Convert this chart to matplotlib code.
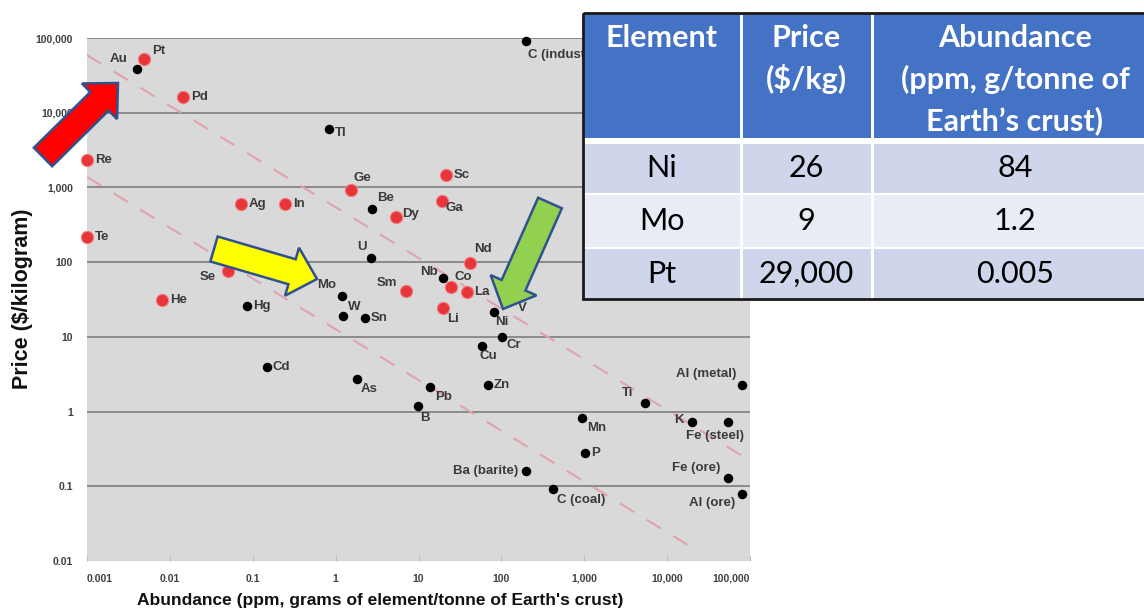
import numpy as np
import matplotlib.pyplot as plt
from matplotlib.patches import FancyArrow, Rectangle

# critical / scarce elements (red points): abundance (ppm) and price ($/kg)
red_names = ['Pt', 'Pd', 'Re', 'Te', 'Ge', 'Ag', 'In', 'Dy', 'Sc', 'Ga',
             'Nd', 'Se', 'He', 'Sm', 'Co', 'La', 'Li']
red_abund = [0.0049, 0.0145, 0.001, 0.001, 1.53, 0.072, 0.245, 5.3, 21.4, 19.1,
             42, 0.05, 0.008, 7.0, 24.6, 38.4, 19.7]
red_price = [52000, 16200, 2330, 217, 920, 600, 600, 400, 1470, 660,
             97, 76, 31, 41, 46, 40, 24]

# everything else (black points)
black_names = ['Au', 'Tl', 'Be', 'U', 'C (industrial)', 'Hg', 'Cd', 'Mo', 'W', 'As',
               'Sn', 'Nb', 'Ni', 'V', 'Cr', 'Cu', 'Zn', 'Pb', 'B', 'Mn',
               'P', 'Ba (barite)', 'C (coal)', 'Ti', 'K', 'Fe (steel)', 'Fe (ore)',
               'Al (ore)', 'Al (metal)']
black_abund = [0.004, 0.83, 2.74, 2.67, 198, 0.085, 0.148, 1.19, 1.22, 1.81,
               2.25, 19.7, 81, 120, 101, 58, 69, 13.7, 9.8, 935,
               1016, 198, 418, 5380, 19900, 54000, 54000,
               79600, 79600]
black_price = [38500, 6050, 514, 113, 91000, 25.8, 3.94, 35, 19, 2.72,
               17.9, 61, 21.5, 29, 9.9, 7.5, 2.26, 2.13, 1.19, 0.82,
               0.278, 0.16, 0.092, 1.3, 0.72, 0.73, 0.129,
               0.079, 2.26]

# two parallel price/abundance trend lines
upper_x = [0.001, 100000]
upper_y = [59000, 0.22]
lower_x = [0.001, 25000]
lower_y = [1380, 0.013]

xtick_vals = [0.001, 0.01, 0.1, 1, 10, 100, 1000, 10000, 100000]
xtick_labels = ['0.001', '0.01', '0.1', '1', '10', '100', '1,000', '10,000', '100,000']
ytick_vals = [0.01, 0.1, 1, 10, 100, 1000, 10000, 100000]
ytick_labels = ['0.01', '0.1', '1', '10', '100', '1,000', '10,000', '100,000']

table_header = [['Element'], ['Price', '($/kg)'],
                ['Abundance', '(ppm, g/tonne of', 'Earth\u2019s crust)']]
table_rows = [['Ni', '26', '84'],
              ['Mo', '9', '1.2'],
              ['Pt', '29,000', '0.005']]

# label placement: pixel offset from the point and alignment
label_pos = {
    'Au': (-9, 10, 'right'), 'Pt': (8, 8, 'left'), 'Pd': (8, 0, 'left'),
    'Tl': (6, -4, 'left'), 'Re': (8, 0, 'left'), 'Te': (8, 0, 'left'),
    'Ge': (3, 12, 'left'), 'Ag': (8, 0, 'left'), 'In': (8, 0, 'left'),
    'Be': (5, 11, 'left'), 'Dy': (6, 3, 'left'), 'Sc': (8, 0, 'left'),
    'Ga': (4, -7, 'left'), 'U': (-9, 11, 'center'), 'Nd': (4, 14, 'left'),
    'Se': (-12, -6, 'right'), 'He': (8, 0, 'left'), 'Hg': (6, 0, 'left'),
    'Cd': (6, 0, 'left'), 'Mo': (-6, 11, 'right'), 'W': (5, 9, 'left'),
    'As': (4, -10, 'left'), 'Sn': (6, 0, 'left'), 'Sm': (-8, 8, 'right'),
    'Nb': (-5, 6, 'right'), 'Co': (4, 10, 'left'), 'La': (7, 0, 'left'),
    'Li': (4, -11, 'left'), 'Ni': (1, -10, 'left'), 'V': (10, -6, 'left'),
    'Cr': (5, -8, 'left'), 'Cu': (-2, -10, 'left'), 'Zn': (6, 0, 'left'),
    'Pb': (5, -10, 'left'), 'B': (2, -12, 'left'), 'Mn': (5, -10, 'left'),
    'P': (6, 0, 'left'), 'Ba (barite)': (-8, 0, 'right'),
    'C (coal)': (4, -11, 'left'), 'C (industrial)': (2, -14, 'left'),
    'Ti': (-11, 10, 'right'), 'K': (-8, 2, 'right'),
    'Fe (steel)': (16, -14, 'right'), 'Fe (ore)': (-7, 10, 'right'),
    'Al (ore)': (-7, -9, 'right'), 'Al (metal)': (-5, 11, 'right'),
}

plt.rcParams['font.family'] = ['Liberation Sans', 'DejaVu Sans']

W, H = 1144, 611
fig = plt.figure(figsize=(W / 100, H / 100), dpi=100)
fig.patch.set_facecolor('white')

# main log-log scatter
ax = fig.add_axes([87 / W, (H - 561) / H, 663 / W, 523 / H])
ax.set_facecolor('#d9d9d9')
ax.set_xscale('log')
ax.set_yscale('log')
ax.set_xlim(0.001, 100000)
ax.set_ylim(0.01, 100000)
for s in ax.spines.values():
    s.set_visible(False)

for yv in ytick_vals[1:]:
    ax.axhline(yv, color='#8a8a8a', lw=1.4, zorder=1)
ax.axhline(0.01, color='#c4c4c4', lw=1.0, zorder=1)

ax.plot(upper_x, upper_y, color='#e0a3ab', lw=1.5, dashes=(8, 7), zorder=2)
ax.plot(lower_x, lower_y, color='#e0a3ab', lw=1.5, dashes=(8, 7), zorder=2)

ax.scatter(red_abund, red_price, s=78, color='#e8353a', edgecolors='#f08080',
           linewidths=0.8, zorder=4, clip_on=False)
ax.scatter(black_abund, black_price, s=34, color='black', zorder=4, clip_on=False)

for names, xs, ys in [(red_names, red_abund, red_price),
                      (black_names, black_abund, black_price)]:
    for n, x, y in zip(names, xs, ys):
        dx, dy, ha = label_pos[n]
        ax.annotate(n, (x, y), xytext=(dx, dy), textcoords='offset pixels',
                    ha=ha, va='center', fontsize=9.5, fontweight='bold',
                    color='#3a3a3a', zorder=5)

ax.set_xticks(xtick_vals)
ax.set_xticklabels(xtick_labels)
ax.set_yticks(ytick_vals)
ax.set_yticklabels(ytick_labels)
ax.minorticks_off()
ax.tick_params(axis='x', length=4, direction='in', color='#c0c0c0', pad=9,
               labelsize=7.5, labelcolor='#404040')
ax.tick_params(axis='y', length=0, pad=10, labelsize=7.5, labelcolor='#404040')
for lab in ax.get_xticklabels() + ax.get_yticklabels():
    lab.set_fontweight('bold')
ax.get_xticklabels()[-1].set_horizontalalignment('right')
ax.get_xticklabels()[0].set_horizontalalignment('left')
ax.get_xticklabels()[0].set_x(0.00085)

fig.text(380 / W, 1 - 601 / H,
         "Abundance (ppm, grams of element/tonne of Earth's crust)",
         ha='center', va='center', fontsize=12.5, fontweight='bold', color='#111111')
fig.text(23 / W, 1 - 299 / H, 'Price ($/kilogram)', rotation=90,
         ha='center', va='center', fontsize=15.5, fontweight='bold', color='#111111')

# overlay in pixel coordinates for arrows and the table
ov = fig.add_axes([0, 0, 1, 1], zorder=10)
ov.set_xlim(0, W)
ov.set_ylim(H, 0)
ov.axis('off')

arrows = [((43, 157), (118, 83), '#ff0000'),
          ((214, 249), (317, 279), '#ffff00'),
          ((550, 203), (503, 309), '#92d050')]
for (x0, y0), (x1, y1), c in arrows:
    ov.add_patch(FancyArrow(x0, y0, x1 - x0, y1 - y0, width=26, head_width=50,
                            head_length=26, length_includes_head=True,
                            facecolor=c, edgecolor='#2f528f', lw=1.8))

# table
col_edges = [583, 741, 872, 1160]
row_edges = [(13, 138), (144, 193), (195, 247), (249, 299)]
row_colors = ['#4472c4', '#cfd5ea', '#e9ebf5', '#cfd5ea']
ov.add_patch(Rectangle((583, 13), 1160 - 583, 286, facecolor='white', edgecolor='none'))
for r, (ya, yb) in enumerate(row_edges):
    for c in range(3):
        xa = col_edges[c] + (0 if c == 0 else 1.5)
        xb = col_edges[c + 1] - (0 if c == 2 else 1.5)
        ov.add_patch(Rectangle((xa, ya), xb - xa, yb - ya,
                               facecolor=row_colors[r], edgecolor='none'))
ov.add_patch(Rectangle((583, 13), 1160 - 583, 286, facecolor='none',
                       edgecolor='#1a1a1a', lw=2))

col_centers = [662, 806, 1015]
tfont = ['Lato', 'DejaVu Sans']
for c, lines in enumerate(table_header):
    for i, line in enumerate(lines):
        ov.text(col_centers[c], 38 + 41.5 * i, line, ha='center', va='center',
                fontsize=22, fontweight='bold', color='white', family=tfont)
row_centers = [168, 221, 274]
for r, row in enumerate(table_rows):
    for c, val in enumerate(row):
        ov.text(col_centers[c], row_centers[r], val, ha='center', va='center',
                fontsize=22, color='black', family=tfont)

fig.savefig('out.png', dpi=100)
